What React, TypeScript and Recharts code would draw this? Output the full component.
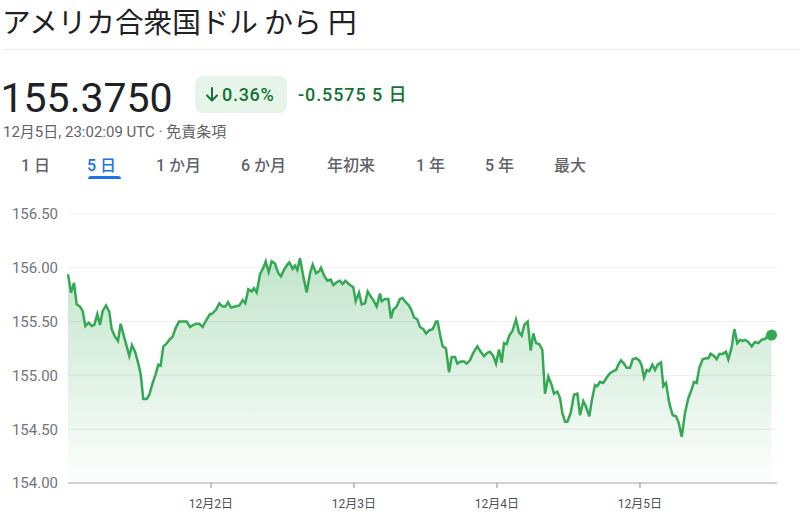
import React from "react";
import { AreaChart, Area, XAxis, YAxis, CartesianGrid, ReferenceDot } from "recharts";

// hours since 12月1日 00:00
const hours: number[] = [
  0, 0.5, 1.01, 1.45, 2.01, 2.46, 2.91, 3.47, 3.97, 4.42, 4.92, 5.37, 5.82, 6.38, 6.94, 7.33, 7.89, 8.39, 8.84, 9.4,
  9.85, 10.29, 10.74, 11.25, 11.8, 12.2, 12.64, 13.2, 13.65, 14.21, 14.71, 15.16, 15.55, 16.0, 16.45, 17.01, 17.57, 18.07, 18.63, 19.25,
  19.92, 20.48, 21.04, 21.6, 22.04, 22.6, 23.16, 23.83,
  24.11, 24.84, 25.4, 25.96, 26.41, 26.85, 27.36, 28.03, 28.76, 29.32, 29.76, 30.27, 30.83, 31.22, 31.67, 32.23, 32.79, 33.18, 33.68, 34.18,
  34.74, 35.3, 35.75, 36.25, 36.81, 37.15, 37.71, 38.1, 38.49, 38.94, 39.5, 40.06, 40.62, 41.07, 41.62, 42.18, 42.46, 42.97, 43.53, 44.09,
  44.53, 45.2, 45.65, 46.1, 46.55,
  47.33, 47.89, 48.28, 48.84, 49.29, 49.85, 50.3, 50.86, 51.25, 51.81, 52.37, 52.65, 53.21, 53.77, 54.21, 54.6, 55.16, 55.72, 56.17, 56.68,
  57.23, 57.68, 58.07, 58.63, 59.08, 59.64, 60.09, 60.65, 61.21, 61.77, 62.05, 62.44, 62.88, 63.44, 63.95, 64.4, 64.95, 65.35, 65.91, 66.47,
  66.91, 67.47, 68.03, 68.7, 69.26, 69.82, 70.38,
  70.83, 71.39, 71.84, 72.34, 72.79, 73.18, 73.63, 74.07, 74.58, 75.19, 75.7, 76.14, 76.59, 77.15, 77.66, 78.1, 78.55, 79.11, 79.61, 80.06,
  80.62, 81.18, 81.57, 82.13, 82.58, 82.97, 83.42, 83.81, 84.37, 84.93, 85.49, 85.94, 86.49, 86.94, 87.5, 87.89, 88.45, 88.84, 89.29, 89.85,
  90.41, 90.97, 91.53, 91.98, 92.37, 92.82, 93.32, 93.77, 94.33,
  94.78, 95.33, 95.89, 96.29, 96.68, 97.12, 97.57, 98.08, 98.52, 98.97, 99.53, 99.92, 100.37, 100.93, 101.49, 102.05, 102.5, 103.0, 103.56, 104.12,
  104.68, 105.07, 105.52, 105.96, 106.52, 107.08, 107.47, 107.87, 108.43, 108.87, 109.32, 109.88, 110.44, 110.83, 111.39, 111.84, 112.34, 112.79, 113.24, 113.68,
  114.19, 114.75, 115.31, 115.87, 116.43, 116.98, 117.53, 118.09,
];

const prices: number[] = [
  155.94, 155.77, 155.86, 155.66, 155.64, 155.6, 155.46, 155.49, 155.46, 155.47, 155.57, 155.47, 155.6, 155.65, 155.59, 155.43, 155.36, 155.32, 155.48, 155.36,
  155.27, 155.18, 155.28, 155.22, 155.11, 155.01, 154.78, 154.78, 154.82, 154.93, 155.01, 155.1, 155.09, 155.27, 155.29, 155.33, 155.36, 155.44, 155.5, 155.5,
  155.5, 155.45, 155.47, 155.48, 155.48, 155.45, 155.51, 155.57,
  155.57, 155.61, 155.67, 155.64, 155.64, 155.68, 155.63, 155.64, 155.65, 155.7, 155.67, 155.8, 155.78, 155.81, 155.77, 155.94, 156.0, 156.06, 155.96, 156.06,
  156.04, 155.95, 155.92, 155.98, 156.03, 156.05, 155.99, 156.02, 155.98, 156.09, 155.92, 155.77, 155.95, 156.03, 155.95, 155.97, 156.0, 155.93, 155.88, 155.89,
  155.84, 155.87, 155.88, 155.85, 155.88,
  155.84, 155.82, 155.69, 155.77, 155.66, 155.67, 155.78, 155.73, 155.7, 155.64, 155.76, 155.69, 155.71, 155.71, 155.53, 155.61, 155.64, 155.71, 155.72, 155.68,
  155.65, 155.6, 155.54, 155.52, 155.45, 155.43, 155.39, 155.42, 155.43, 155.5, 155.5, 155.38, 155.27, 155.25, 155.03, 155.17, 155.17, 155.11, 155.13, 155.13,
  155.11, 155.14, 155.21, 155.27, 155.22, 155.18, 155.21,
  155.22, 155.18, 155.11, 155.24, 155.12, 155.3, 155.29, 155.37, 155.41, 155.52, 155.4, 155.37, 155.47, 155.5, 155.23, 155.39, 155.3, 155.29, 155.24, 154.83,
  154.99, 154.91, 154.83, 154.85, 154.79, 154.65, 154.57, 154.57, 154.65, 154.82, 154.83, 154.63, 154.76, 154.71, 154.62, 154.76, 154.91, 154.9, 154.94, 154.93,
  154.98, 155.02, 155.04, 155.05, 155.1, 155.14, 155.11, 155.07, 155.07,
  155.15, 155.16, 155.14, 155.09, 154.98, 155.05, 155.04, 155.1, 155.05, 155.1, 155.12, 154.9, 154.93, 154.74, 154.63, 154.62, 154.56, 154.43, 154.65, 154.79,
  154.87, 154.94, 154.93, 155.07, 155.15, 155.16, 155.16, 155.2, 155.18, 155.15, 155.2, 155.2, 155.22, 155.15, 155.26, 155.43, 155.3, 155.33, 155.32, 155.33,
  155.31, 155.27, 155.31, 155.3, 155.33, 155.34, 155.37, 155.375,
];

const dayTicks: number[] = [24, 48, 72, 96];
const dayLabels: string[] = ["12月2日", "12月3日", "12月4日", "12月5日"];
const yTicks: number[] = [154, 154.5, 155, 155.5, 156, 156.5];
const tabs: string[] = ["1 日", "5 日", "1 か月", "6 か月", "年初来", "1 年", "5 年", "最大"];
const tabLefts: number[] = [21, 87, 156, 241, 327, 416, 485, 554];

const data = hours.map((t, i) => ({ t, v: prices[i] }));
const last = data[data.length - 1];

const FONT = "Roboto, 'Noto Sans CJK JP', sans-serif";
const GREEN = "#137333";

export default function App() {
  return (
    <div style={{ position: "absolute", left: 0, top: 0, width: 800, height: 517, background: "#fff", fontFamily: FONT, overflow: "hidden" }}>
      <div style={{ position: "absolute", left: 2, top: 6.5, fontSize: 28.6, lineHeight: "28px", color: "#202124", fontFamily: "'Noto Sans CJK JP', sans-serif", whiteSpace: "nowrap" }}>
        アメリカ合衆国ドル から 円
      </div>
      <div style={{ position: "absolute", left: 3, right: 0, top: 49, height: 1, background: "#e8eaed" }} />
      <div style={{ position: "absolute", left: 0.5, top: 77.5, fontSize: 41, lineHeight: "41px", color: "#202124", whiteSpace: "nowrap" }}>
        155.3750
      </div>
      <div style={{ position: "absolute", left: 195, top: 76, width: 92, height: 37, borderRadius: 8, background: "#e6f4ea" }} />
      <svg style={{ position: "absolute", left: 204, top: 86 }} width={16} height={18}>
        <path d="M8 2 L8 14.5 M3 9.5 L8 14.5 L13 9.5" stroke={GREEN} strokeWidth={2} fill="none" strokeLinecap="round" strokeLinejoin="round" />
      </svg>
      <div style={{ position: "absolute", left: 222, top: 86, fontSize: 18, lineHeight: "18px", color: GREEN, fontWeight: 500, letterSpacing: 0.7, whiteSpace: "nowrap" }}>
        0.36%
      </div>
      <div style={{ position: "absolute", left: 298, top: 86, fontSize: 18, lineHeight: "18px", color: GREEN, fontWeight: 500, letterSpacing: 0.9, whiteSpace: "nowrap" }}>
        -0.5575 5 日
      </div>
      <div style={{ position: "absolute", left: 3, top: 125, fontSize: 15, lineHeight: "15px", color: "#5f6368", whiteSpace: "nowrap" }}>
        12月5日, 23:02:09 UTC · 免責条項
      </div>
      {tabs.map((t, i) => (
        <div key={t} style={{ position: "absolute", left: tabLefts[i], top: 157.5, fontSize: 16, lineHeight: "16px", fontWeight: 500, color: i === 1 ? "#1a73e8" : "#5f6368", whiteSpace: "nowrap" }}>
          {t}
        </div>
      ))}
      <div style={{ position: "absolute", left: 88, top: 176, width: 33, height: 3, borderRadius: "3px 3px 0 0", background: "#1a73e8" }} />
      <div style={{ position: "absolute", left: 0, top: 200 }}>
        <AreaChart width={800} height={317} data={data} margin={{ top: 14, right: 23, bottom: 4, left: 8 }}>
          <defs>
            <linearGradient id="g" x1="0" y1="0" x2="0" y2="1">
              <stop offset="0%" stopColor="#34a853" stopOpacity={0.3} />
              <stop offset="100%" stopColor="#34a853" stopOpacity={0.01} />
            </linearGradient>
          </defs>
          <CartesianGrid vertical={false} stroke="#eeeeee" />
          <XAxis
            dataKey="t"
            type="number"
            domain={[0, 119]}
            ticks={dayTicks}
            tickFormatter={(v: number) => dayLabels[dayTicks.indexOf(v)] ?? ""}
            height={30}
            axisLine={{ stroke: "#c4c4c4", strokeWidth: 1.5 }}
            tickLine={{ stroke: "#8a8a8a" }}
            tickSize={5}
            tickMargin={11}
            tick={{ fill: "#4d5156", fontSize: 12, fontFamily: FONT }}
          />
          <YAxis
            type="number"
            domain={[154, 156.5]}
            ticks={yTicks}
            tickFormatter={(v: number) => v.toFixed(2)}
            width={60}
            axisLine={false}
            tickLine={false}
            tickMargin={4}
            tick={{ fill: "#70757a", fontSize: 15, fontFamily: FONT }}
          />
          <Area
            type="linear"
            dataKey="v"
            stroke="#34a853"
            strokeWidth={2.5}
            fill="url(#g)"
            fillOpacity={1}
            dot={false}
            activeDot={false}
            isAnimationActive={false}
          />
          <ReferenceDot x={last.t} y={last.v} r={5.5} fill="#34a853" stroke="none" ifOverflow="visible" />
        </AreaChart>
      </div>
    </div>
  );
}
